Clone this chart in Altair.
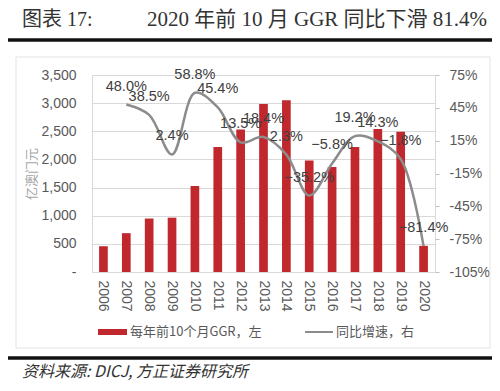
import altair as alt
import pandas as pd

years = ["2006", "2007", "2008", "2009", "2010", "2011", "2012", "2013",
         "2014", "2015", "2016", "2017", "2018", "2019", "2020"]
ggr = [458, 690, 950, 965, 1530, 2220, 2530, 2985,
       3050, 1980, 1865, 2220, 2540, 2490, 465]
growth = [None, 48.0, 38.5, 2.4, 58.8, 45.4, 13.5, 18.4,
          2.3, -35.2, -5.8, 19.2, 14.3, -1.8, -81.4]
right_ticks = [-105, -75, -45, -15, 15, 45, 75]
left_ticks = [0, 500, 1000, 1500, 2000, 2500, 3000, 3500]

title_left = "图表 17:"
title_right = "2020 年前 10 月 GGR 同比下滑 81.4%"
legend_bar = "每年前10个月GGR，左"
legend_line = "同比增速，右"
source_text = "资料来源: DICJ, 方正证券研究所"
y_left_title = "亿澳门元"

df = pd.DataFrame({"year": years, "ggr": ggr, "growth": growth})

W, H = 343, 197
LABEL_COLOR = "#595959"
RED = "#C0282D"
GRAY_LINE = "#8C8C8C"

xscale = alt.Scale(paddingInner=0.62, paddingOuter=0.31)
xaxis = alt.Axis(title=None, labelAngle=90, labelAlign="left", labelBaseline="middle",
                 labelPadding=8, ticks=False, domain=False, labelFontSize=14,
                 labelColor=LABEL_COLOR, labelFont="Liberation Sans", labelOverlap=False)

bars = alt.Chart(df).mark_bar(color=RED).encode(
    x=alt.X("year:O", scale=xscale, axis=xaxis),
    y=alt.Y("ggr:Q", scale=alt.Scale(domain=[0, 3500], nice=False),
            axis=alt.Axis(orient="left", values=left_ticks,
                          labelExpr="datum.value == 0 ? '-' : format(datum.value, ',')",
                          title=y_left_title, titleColor="#A6A6A6", titleFontSize=13,
                          titleFontWeight="normal", titleFont="Noto Sans CJK SC",
                          titlePadding=2, labelOverlap=False,
                          labelFontSize=14, labelColor=LABEL_COLOR, labelFont="Liberation Sans",
                          labelPadding=16, ticks=False, domain=False,
                          grid=True, gridColor="#D9D9D9")),
)

gdf = df.dropna()
yright = alt.Scale(domain=[-105, 75], nice=False)
raxis = alt.Axis(orient="right", values=right_ticks,
                 labelExpr="datum.value + '%'", title=None, labelOverlap=False,
                 labelFlush=False, labelBound=False,
                 labelFontSize=14, labelColor=LABEL_COLOR, labelFont="Liberation Sans",
                 labelPadding=10, ticks=True, tickSize=4, tickColor="#BFBFBF",
                 domain=False, grid=False)
line = alt.Chart(gdf).mark_line(color=GRAY_LINE, strokeWidth=2.5, interpolate="catmull-rom").encode(
    x=alt.X("year:O", scale=xscale, axis=xaxis),
    y=alt.Y("growth:Q", scale=yright, axis=raxis),
)

labels = alt.Chart(gdf).transform_calculate(
    lab="format(datum.growth, '.1f') + '%'"
).mark_text(fontSize=14.5, color="#404040", font="Liberation Sans", dy=-18, baseline="middle").encode(
    x=alt.X("year:O", scale=xscale, axis=xaxis),
    y=alt.Y("growth:Q", scale=yright, axis=raxis),
    text="lab:N",
)

one = alt.Data(values=[{"a": 1}])

def txt(s, x, y, **kw):
    return alt.Chart(one).mark_text(align="left", baseline="middle", **kw).encode(
        x=alt.value(x), y=alt.value(y), text=alt.value(s))

def rule(x1, x2, y1, y2, **kw):
    return alt.Chart(one).mark_rule(**kw).encode(
        x=alt.value(x1), x2=alt.value(x2), y=alt.value(y1), y2=alt.value(y2))

serif = "Liberation Serif, Noto Sans CJK SC"
deco = [
    txt(title_left, -70, -55, font=serif, fontSize=20, color="#333333"),
    txt(title_right, 55, -55, font=serif, fontSize=21, color="#333333"),
    rule(-84, 400, -35, -35, color="#111111", strokeWidth=3.5),
    alt.Chart(one).mark_rect(fill="white", fillOpacity=0, stroke="#E3E3E3", strokeWidth=1).encode(
        x=alt.value(-76), x2=alt.value(398), y=alt.value(-18), y2=alt.value(273)),
    rule(-84, 400, 283, 283, color="#111111", strokeWidth=3.5),
    txt(source_text, -70, 297, font="Noto Sans CJK SC", fontSize=16, fontStyle="italic", color="#333333"),
    alt.Chart(one).mark_rect(color=RED).encode(
        x=alt.value(6), x2=alt.value(35), y=alt.value(254), y2=alt.value(260)),
    txt(legend_bar, 38, 257, font="Noto Sans CJK SC", fontSize=13, color="#595959"),
    rule(213, 241, 257, 257, color=GRAY_LINE, strokeWidth=2),
    txt(legend_line, 244, 257, font="Noto Sans CJK SC", fontSize=13, color="#595959"),
]

chart = alt.layer(
    bars, alt.layer(line, labels), *deco
).resolve_scale(y="independent").properties(
    width=W, height=H, autosize="none",
    padding={"left": 84, "top": 67, "right": 57, "bottom": 111},
    background="white",
).configure_view(stroke="#D9D9D9")

chart.save("out.html", embed_options={"renderer": "svg", "actions": False})
